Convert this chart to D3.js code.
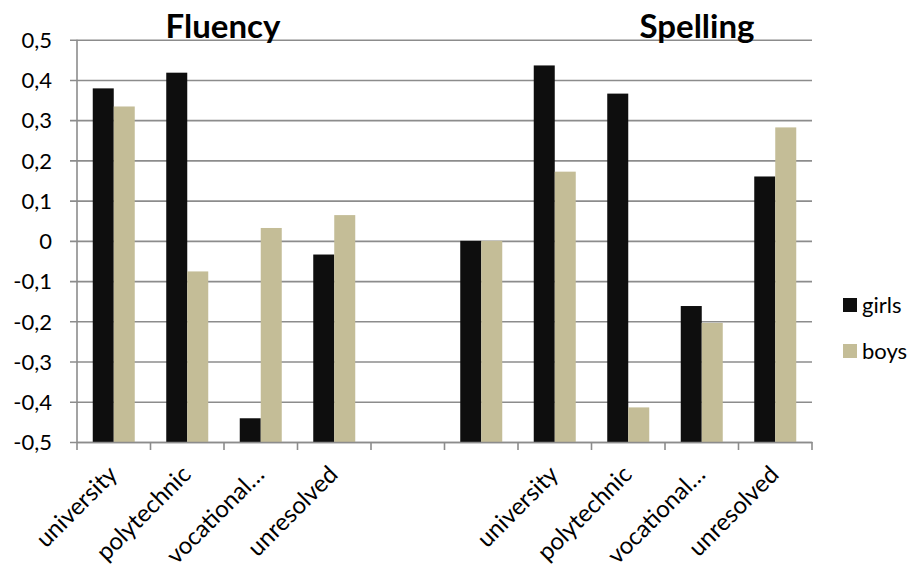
<!DOCTYPE html>
<html>
<head>
<meta charset="utf-8">
<script src="https://cdn.jsdelivr.net/npm/d3@7"></script>
<style>
  body { margin: 0; background: #fff; }
  text { font-family: Lato, "Open Sans", sans-serif; fill: #000; }
</style>
</head>
<body>
<div id="chart"></div>
<script>
// Data
var categories = ["university", "polytechnic", "vocational…", "unresolved", "", "",
                  "university", "polytechnic", "vocational…", "unresolved"];
var girls = [0.379, 0.418, -0.441, -0.034, null, 0, 0.436, 0.366, -0.162, 0.160];
var boys  = [0.334, -0.076, 0.032, 0.064, null, 0, 0.172, -0.414, -0.204, 0.282];
var seriesNames = ["girls", "boys"];
var yTicks = [-0.5, -0.4, -0.3, -0.2, -0.1, 0, 0.1, 0.2, 0.3, 0.4, 0.5];
var titles = ["Fluency", "Spelling"];

var svgWidth = 914;
var svgHeight = 564;
var colors = { girls: "#0e0e0e", boys: "#c4bd97" };

var svg = d3.select("#chart")
  .append("svg")
  .attr("width", svgWidth)
  .attr("height", svgHeight);

// Scales
var x = d3.scaleBand()
  .domain(d3.range(categories.length))
  .range([77, 812]);

var y = d3.scaleLinear()
  .domain([-0.5, 0.5])
  .range([442, 39.7]);

var inner = d3.scaleBand()
  .domain(seriesNames)
  .range([15.75, x.bandwidth() - 15.75]);

// Gridlines and y axis labels (axis crosses at -0,5)
var leftAxis = d3.axisLeft(y)
  .tickValues(yTicks)
  .tickSize(812 - 70)
  .tickFormat(d => d === 0 ? "0" : d3.format(".1f")(d).replace(".", ",").replace("−", "-"));

var yAxis = svg.append("g")
  .attr("transform", "translate(812,0)")
  .call(leftAxis);
yAxis.select(".domain").remove();
yAxis.selectAll(".tick line")
  .attr("stroke", "#8c8c8c")
  .attr("stroke-width", 1.6);
yAxis.selectAll(".tick text")
  .attr("x", -(812 - 52))
  .attr("font-size", "22px")
  .attr("text-anchor", "end")
  .attr("dy", "0.35em");

// Bars rise from the bottom of the axis
var base = y.domain()[0];
seriesNames.forEach(function(name) {
  var vals = name === "girls" ? girls : boys;
  var row = vals.map((v, i) => ({ series: name, i: i, v: v })).filter(d => d.v !== null);
  svg.append("g")
    .selectAll("rect")
    .data(row)
    .enter()
    .append("rect")
    .attr("x", d => x(d.i) + inner(d.series))
    .attr("width", inner.bandwidth())
    .attr("y", d => y(d.v))
    .attr("height", d => y(base) - y(d.v))
    .attr("fill", d => colors[d.series]);
});

// Left axis line
svg.append("line")
  .attr("x1", 77).attr("x2", 77)
  .attr("y1", y(0.5)).attr("y2", y(base))
  .attr("stroke", "#8c8c8c")
  .attr("stroke-width", 1.6);

// Bottom axis
var bottomAxis = d3.axisBottom(x)
  .tickSize(0)
  .tickFormat(i => categories[i]);

var xAxis = svg.append("g")
  .attr("transform", `translate(0,${y(base)})`)
  .call(bottomAxis);
xAxis.select(".domain")
  .attr("stroke", "#8c8c8c")
  .attr("stroke-width", 1.6);
xAxis.selectAll(".tick text")
  .attr("font-size", "24px")
  .attr("text-anchor", "end")
  .attr("dy", 0)
  .attr("y", 0)
  .attr("transform", "translate(5,34) rotate(-45)");

// Category separator ticks
svg.append("g")
  .selectAll("line")
  .data(d3.range(categories.length + 1))
  .enter()
  .append("line")
  .attr("x1", i => 77 + i * x.bandwidth())
  .attr("x2", i => 77 + i * x.bandwidth())
  .attr("y1", y(base))
  .attr("y2", y(base) + 8)
  .attr("stroke", "#8c8c8c")
  .attr("stroke-width", 1.6);

// Titles
svg.selectAll(".title")
  .data(titles)
  .enter()
  .append("text")
  .attr("class", "title")
  .attr("x", (d, i) => i === 0 ? 223 : 697)
  .attr("y", 38)
  .attr("text-anchor", "middle")
  .attr("font-size", "33px")
  .attr("font-weight", "bold")
  .text(d => d);

// Legend
var legend = svg.append("g")
  .attr("transform", "translate(843,298)");

var legendItem = legend.selectAll("g")
  .data(seriesNames)
  .enter()
  .append("g")
  .attr("transform", (d, i) => `translate(0, ${i * 46})`);

legendItem.append("rect")
  .attr("width", 14)
  .attr("height", 14)
  .attr("fill", d => colors[d]);

legendItem.append("text")
  .attr("x", 19)
  .attr("y", 15)
  .attr("font-size", "22px")
  .text(d => d);
</script>
</body>
</html>
